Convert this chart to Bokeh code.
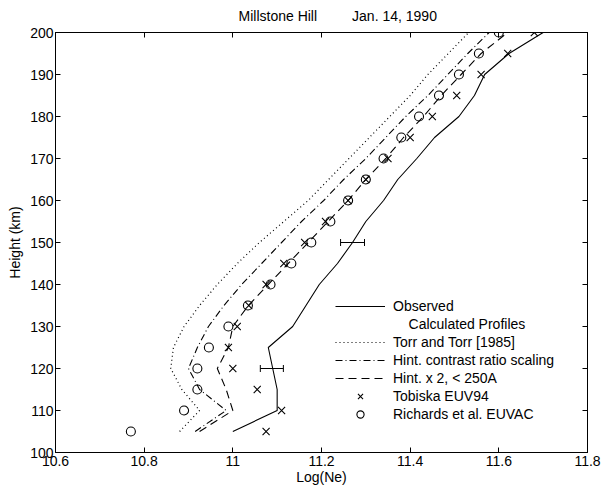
from bokeh.plotting import figure
from bokeh.models import (ColumnDataSource, CustomLabelingPolicy, FixedTicker, Legend,
                          LegendItem, LinearAxis, Range1d, Whisker, TeeHead)
from bokeh.embed import file_html
from bokeh.resources import INLINE

FONT = "Liberation Sans"

# Altitude grid (km)
heights = [105, 110, 115, 120, 125, 130, 135, 140, 145, 150,
           155, 160, 165, 170, 175, 180, 185, 190, 195, 200]

# log10 electron density profiles
observed = [11.00, 11.10, 11.10, 11.09, 11.08, 11.135, 11.165, 11.195, 11.236, 11.27,
            11.30, 11.34, 11.372, 11.415, 11.455, 11.51, 11.545, 11.568, 11.623, 11.70]
torr_1985 = [10.88, 10.925, 10.885, 10.86, 10.866, 10.89, 10.925, 10.965, 11.01, 11.06,
             11.115, 11.17, 11.216, 11.262, 11.308, 11.354, 11.40, 11.44, 11.486, 11.532]
hint_ratio = [10.915, 10.985, 10.925, 10.90, 10.92, 10.945, 10.98, 11.02, 11.065, 11.11,
              11.155, 11.205, 11.25, 11.30, 11.345, 11.39, 11.44, 11.485, 11.53, 11.578]
hint_x2 = [10.925, 11.0, 10.985, 10.965, 10.99, 11.0, 11.035, 11.08, 11.125, 11.17,
           11.215, 11.26, 11.30, 11.345, 11.385, 11.43, 11.47, 11.515, 11.56, 11.62]
tobiska = [11.075, 11.11, 11.055, 11.00, 10.99, 11.01, 11.036, 11.075, 11.115, 11.162,
           11.209, 11.26, 11.30, 11.35, 11.40, 11.45, 11.505, 11.56, 11.62, 11.68]
richards = [10.77, 10.89, 10.92, 10.92, 10.946, 10.99, 11.034, 11.085, 11.132, 11.177,
            11.22, 11.26, 11.30, 11.34, 11.38, 11.42, 11.465, 11.51, 11.555, 11.60]

# Observation uncertainty bars
err_heights = [120, 150]
err_center = [11.088, 11.27]
err_half = [0.026, 0.027]

x_ticks = [10.6, 10.8, 11.0, 11.2, 11.4, 11.6, 11.8]
x_tick_labels = ["10.6", "10.8", "11", "11.2", "11.4", "11.6", "11.8"]
y_ticks = [100, 110, 120, 130, 140, 150, 160, 170, 180, 190, 200]

p = figure(width=604, height=487, x_range=Range1d(10.6, 11.8), y_range=Range1d(100, 200),
           output_backend="svg", toolbar_location=None,
           min_border_left=55, min_border_right=17, min_border_top=32, min_border_bottom=35,
           background_fill_color="white", border_fill_color="white")
p.grid.visible = False
p.outline_line_color = "black"
p.outline_line_width = 1


def style_axis(ax, ticks, labels=True):
    ax.ticker = FixedTicker(ticks=ticks)
    ax.major_tick_in = 5
    ax.major_tick_out = 0
    ax.minor_tick_line_color = None
    ax.axis_line_color = "black"
    ax.major_tick_line_color = "black"
    ax.major_label_text_font = FONT
    ax.major_label_text_color = "black"
    ax.axis_label_text_font = FONT
    ax.axis_label_text_font_style = "normal"
    ax.axis_label_text_color = "black"
    ax.axis_label_text_font_size = "14px"
    if labels:
        ax.major_label_text_font_size = "14px"
        ax.major_label_standoff = 3
    else:
        # box-side axes: tick marks only, no tick labels
        ax.major_label_policy = CustomLabelingPolicy(code="return []")
        ax.major_label_text_font_size = "1px"
        ax.major_label_standoff = 0


style_axis(p.xaxis[0], x_ticks)
p.xaxis[0].major_label_overrides = dict(zip(x_ticks, x_tick_labels))
p.xaxis[0].axis_label = "Log(Ne)"
p.xaxis[0].axis_label_standoff = 0

style_axis(p.yaxis[0], y_ticks)
p.yaxis[0].axis_label = "Height (km)"
p.yaxis[0].axis_label_standoff = 4
p.yaxis[0].major_label_standoff = 2

top_axis = LinearAxis()
style_axis(top_axis, x_ticks, labels=False)
p.add_layout(top_axis, "above")
right_axis = LinearAxis()
style_axis(right_axis, y_ticks, labels=False)
p.add_layout(right_axis, "right")

p.title.text = "Millstone Hill" + "\u00a0" * 9 + "Jan. 14, 1990"
p.title.align = "left"
p.title.offset = 183
p.title.text_font = FONT
p.title.text_font_size = "14px"
p.title.text_font_style = "normal"
p.title.text_color = "black"

src = ColumnDataSource(dict(h=heights, obs=observed, torr=torr_1985, ratio=hint_ratio,
                            x2=hint_x2, tob=tobiska, rich=richards))

r_obs = p.line("obs", "h", source=src, line_color="black", line_width=1.1)
r_torr = p.line("torr", "h", source=src, line_color="black", line_width=1.2, line_dash="1 3")
r_ratio = p.line("ratio", "h", source=src, line_color="black", line_width=1.1, line_dash="7 3 1 3")
r_x2 = p.line("x2", "h", source=src, line_color="black", line_width=1.1, line_dash="8 5")
r_tob = p.scatter("tob", "h", source=src, marker="x", size=10, line_color="black", line_width=1.1)
r_rich = p.scatter("rich", "h", source=src, marker="circle", size=9, line_color="black",
                   fill_color=None, line_width=1.1)
r_head = p.line(x=[], y=[], line_alpha=0)

err_src = ColumnDataSource(dict(
    h=err_heights,
    lo=[c - e for c, e in zip(err_center, err_half)],
    hi=[c + e for c, e in zip(err_center, err_half)],
))
p.add_layout(Whisker(source=err_src, base="h", lower="lo", upper="hi", dimension="width",
                     line_color="black", line_width=1,
                     upper_head=TeeHead(size=7, line_color="black", line_width=1),
                     lower_head=TeeHead(size=7, line_color="black", line_width=1)))

legend = Legend(items=[
    LegendItem(label="Observed", renderers=[r_obs]),
    LegendItem(label="\u00a0\u00a0\u00a0\u00a0Calculated Profiles", renderers=[r_head]),
    LegendItem(label="Torr and Torr [1985]", renderers=[r_torr]),
    LegendItem(label="Hint. contrast ratio scaling", renderers=[r_ratio]),
    LegendItem(label="Hint. x 2, < 250A", renderers=[r_x2]),
    LegendItem(label="Tobiska EUV94", renderers=[r_tob]),
    LegendItem(label="Richards et al. EUVAC", renderers=[r_rich]),
], location=(280, 29), glyph_width=50, glyph_height=18, label_height=18, spacing=0,
    padding=0, margin=0, label_standoff=8, border_line_color=None,
    background_fill_alpha=0, label_text_font=FONT, label_text_font_size="14px",
    label_text_color="black")
p.add_layout(legend)

open("out.html", "w").write(file_html(p, INLINE))
